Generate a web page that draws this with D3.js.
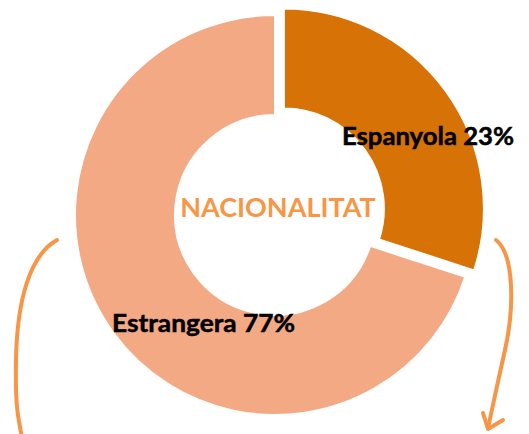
<!DOCTYPE html>
<html>
<head>
<meta charset="utf-8">
<script src="https://cdn.jsdelivr.net/npm/d3@7"></script>
<style>
  html, body { margin: 0; padding: 0; background: #fff; }
  svg { display: block; }
</style>
</head>
<body>
<div id="chart"></div>
<script>
// data
const categories = ["Espanyola", "Estrangera"];
const pctLabels = ["23%", "77%"];
// slice sizes as they are drawn in the source (wider than the printed %)
const shares = [30, 70];
const sliceColors = ["#D67206", "#F4A985"];
const title = "NACIONALITAT";

const width = 529,
  height = 434;
const cx = 275,
  cy = 215;
const outerR = 200,
  innerR = 100;
const explode = 11;

const svg = d3
  .select("#chart")
  .append("svg")
  .attr("width", width)
  .attr("height", height);

const pie = d3.pie().sort(null).value((d) => d);
const arc = d3.arc().innerRadius(innerR).outerRadius(outerR);
const arcs = pie(shares);

const g = svg.append("g").attr("transform", `translate(${cx},${cy})`);

g.selectAll("path")
  .data(arcs)
  .enter()
  .append("path")
  .attr("d", arc)
  .attr("fill", (d, i) => sliceColors[i])
  .attr("stroke", "#fff")
  .attr("stroke-width", 2)
  .attr("transform", (d, i) => {
    if (i !== 0) return null;
    // first slice pulled out along its bisector
    const a = (d.startAngle + d.endAngle) / 2;
    return `translate(${explode * Math.sin(a)},${-explode * Math.cos(a)})`;
  });

const font = "Lato, 'Open Sans', sans-serif";

// slice labels
const labelPos = [
  [67, -70],
  [-163, 117],
];
const labelWidth = [172, 183];
g.selectAll("text.lbl")
  .data(arcs)
  .enter()
  .append("text")
  .attr("class", "lbl")
  .attr("x", (d, i) => labelPos[i][0])
  .attr("y", (d, i) => labelPos[i][1])
  .attr("font-family", font)
  .attr("font-weight", "bold")
  .attr("font-size", 24)
  .attr("fill", "#000")
  .attr("stroke", "#000")
  .attr("stroke-width", 0.5)
  .attr("textLength", (d, i) => labelWidth[i])
  .attr("lengthAdjust", "spacingAndGlyphs")
  .text((d, i) => `${categories[i]} ${pctLabels[i]}`);

g.append("text")
  .attr("x", 3)
  .attr("y", 2)
  .attr("text-anchor", "middle")
  .attr("font-family", font)
  .attr("font-weight", "bold")
  .attr("font-size", 27)
  .attr("fill", "#F79646")
  .text(title);

// decorative arrows
const orange = "#F79646";
svg
  .append("path")
  .attr("d", "M57,240 C30,255 17,300 16,360 S20,420 22,440")
  .attr("fill", "none")
  .attr("stroke", orange)
  .attr("stroke-width", 4)
  .attr("stroke-linecap", "round");

svg
  .append("path")
  .attr("d", "M496,240 C515,255 514,310 505,350 S492,410 488,428")
  .attr("fill", "none")
  .attr("stroke", orange)
  .attr("stroke-width", 4)
  .attr("stroke-linecap", "round");

svg
  .append("path")
  .attr("d", "M483,413 L488,429 L503,420")
  .attr("fill", "none")
  .attr("stroke", orange)
  .attr("stroke-width", 4)
  .attr("stroke-linecap", "round")
  .attr("stroke-linejoin", "round");
</script>
</body>
</html>
